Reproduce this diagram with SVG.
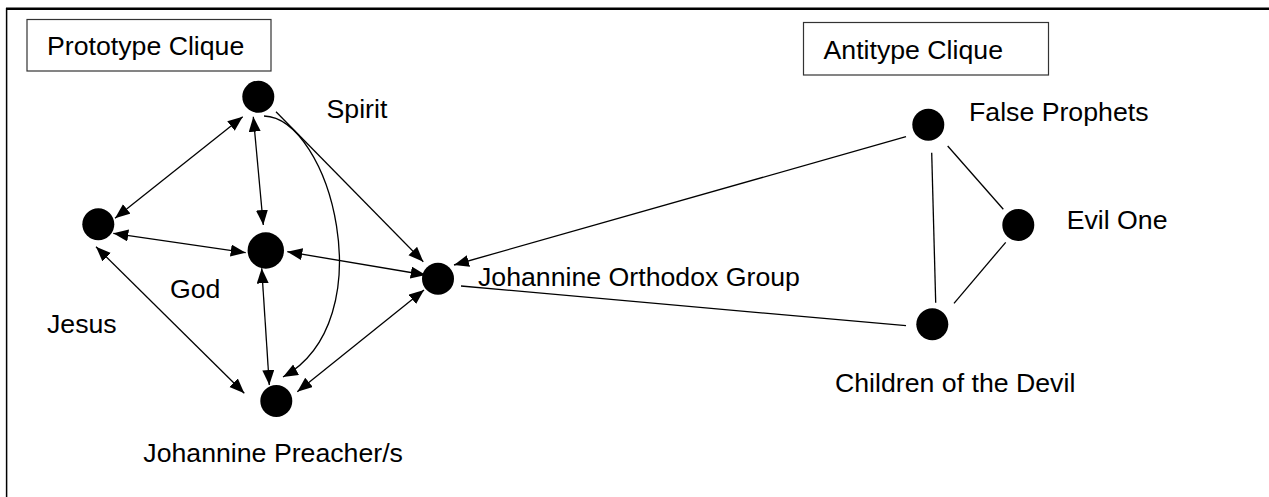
<svg xmlns="http://www.w3.org/2000/svg" width="1269" height="497" viewBox="0 0 1269 497">
<style>
text{font-family:"Liberation Sans",Arial,sans-serif;font-size:26.7px;fill:#000}
.node{fill:#000}
.box{fill:#fff;stroke:#333;stroke-width:1.2}
.edge{fill:none;stroke:#000;stroke-width:1.3}
.arr{marker-end:url(#ah)}
.bi{marker-start:url(#ah);marker-end:url(#ah)}
</style>
<defs>
<marker id="ah" markerUnits="userSpaceOnUse" markerWidth="16" markerHeight="13" refX="15" refY="6" orient="auto-start-reverse" viewBox="0 0 16 13">
<path d="M0,0 L15,6 L0,12 z" fill="#000"/>
</marker>
</defs>
<rect width="1269" height="497" fill="#fff"/>
<g id="frame">
<line x1="6" y1="8.8" x2="1269" y2="8.8" stroke="#000" stroke-width="2.4"/>
<line x1="6.6" y1="8" x2="6.6" y2="497" stroke="#000" stroke-width="1.5"/>
</g>
<g id="label-prototype">
<rect class="box" x="27" y="19.5" width="244" height="51.5"/>
<text x="47" y="55">Prototype Clique</text>
</g>
<g id="label-antitype">
<rect class="box" x="803.5" y="22.5" width="245" height="52.5"/>
<text x="823.5" y="59">Antitype Clique</text>
</g>
<g id="connectors">
<line class="edge bi" x1="242.7" y1="116.7" x2="115" y2="218.3"/>
<line class="edge bi" x1="253.3" y1="116.7" x2="263.3" y2="225"/>
<line class="edge arr" x1="276" y1="111.7" x2="423.3" y2="261.7"/>
<path class="edge arr" d="M264,116 C330,118 385,320 283,377"/>
<line class="edge bi" x1="113.3" y1="233.3" x2="245.7" y2="252.7"/>
<line class="edge bi" x1="96" y1="246.7" x2="244.3" y2="393.3"/>
<line class="edge bi" x1="261.7" y1="268.3" x2="269.3" y2="385"/>
<line class="edge bi" x1="287.3" y1="251.7" x2="425.7" y2="275"/>
<line class="edge bi" x1="297.3" y1="391.7" x2="424" y2="290"/>
<line class="edge arr" x1="906" y1="136.7" x2="454" y2="265"/>
<line class="edge" x1="461" y1="286" x2="906" y2="325.7"/>
<line class="edge" x1="931.7" y1="152.7" x2="935.7" y2="302.7"/>
<line class="edge" x1="947.7" y1="146" x2="1003.3" y2="209.3"/>
<line class="edge" x1="1005.7" y1="242.3" x2="954" y2="303.3"/>
</g>
<g id="spirit">
<circle class="node" cx="258.3" cy="96.7" r="16"/>
<text x="326.5" y="117.5">Spirit</text>
</g>
<g id="jesus">
<circle class="node" cx="98.3" cy="224.3" r="16"/>
<text x="47" y="333.3">Jesus</text>
</g>
<g id="god">
<circle class="node" cx="265.8" cy="250.5" r="18.2"/>
<text x="170" y="297.5">God</text>
</g>
<g id="preacher">
<circle class="node" cx="276.3" cy="401" r="16"/>
<text x="143.3" y="462">Johannine Preacher/s</text>
</g>
<g id="orthodox">
<circle class="node" cx="438" cy="278.7" r="16"/>
<text x="478" y="285.5">Johannine Orthodox Group</text>
</g>
<g id="false-prophets">
<circle class="node" cx="928.3" cy="124.7" r="16"/>
<text x="969" y="121">False Prophets</text>
</g>
<g id="evil-one">
<circle class="node" cx="1018.3" cy="225" r="16"/>
<text x="1066.7" y="229.3">Evil One</text>
</g>
<g id="children">
<circle class="node" cx="932.3" cy="324.3" r="16"/>
<text x="835" y="391.7">Children of the Devil</text>
</g>
</svg>
